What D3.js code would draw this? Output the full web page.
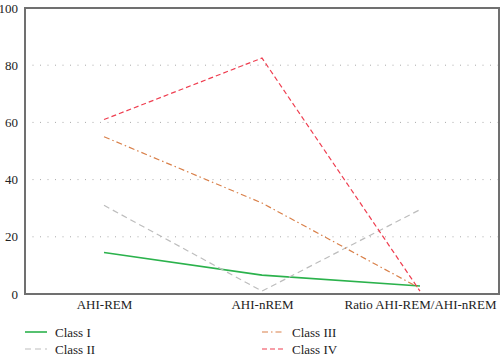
<!DOCTYPE html>
<html><head><meta charset="utf-8">
<script src="https://cdn.jsdelivr.net/npm/d3@7"></script>
<style>body{margin:0;background:#fff}svg{display:block}text{font-family:"Liberation Serif","DejaVu Serif",serif;fill:#222}</style>
</head><body><svg id="c" width="500" height="358"></svg>
<script>
const categories = ["AHI-REM", "AHI-nREM", "Ratio AHI-REM/AHI-nREM"];
const classI = [14.5, 6.6, 2.8];
const classII = [31, 1, 29.5];
const classIII = [55, 31.8, 2];
const classIV = [61, 82.5, 1];
const yTicks = [0, 20, 40, 60, 80, 100];
const seriesNames = ["Class I", "Class II", "Class III", "Class IV"];

const series = [
  {name: seriesNames[0], values: classI, color: "#2bb24c", dash: null, w: 1.6},
  {name: seriesNames[1], values: classII, color: "#bdbdbd", dash: "6,4", w: 1.2},
  {name: seriesNames[2], values: classIII, color: "#d9804a", dash: "6,3,1.5,3", w: 1.2},
  {name: seriesNames[3], values: classIV, color: "#ef3e50", dash: "5,3", w: 1.2}
];

const svg = d3.select("#c");
const L = 25, R = 499, T = 8, B = 294;
const x = d3.scalePoint().domain(categories).range([L, R]).padding(0.5);
const y = d3.scaleLinear().domain([0, 100]).range([B, T]);

// grid
svg.append("g").selectAll("line").data(yTicks.filter(t => t > 0 && t < 100)).join("line")
  .attr("x1", L).attr("x2", R).attr("y1", d => y(d)).attr("y2", d => y(d))
  .attr("stroke", "#aaa").attr("stroke-width", 1).attr("stroke-dasharray", "1,6.5");

// frame
svg.append("rect").attr("x", L).attr("y", T).attr("width", R - L).attr("height", B - T)
  .attr("fill", "none").attr("stroke", "#707070").attr("stroke-width", 2);

// y axis
const ya = svg.append("g").attr("transform", `translate(${L},0)`)
  .call(d3.axisLeft(y).tickValues(yTicks).tickSize(0).tickPadding(7));
ya.attr("font-family", null);
ya.select(".domain").remove();
ya.selectAll("text").style("font-size", "13px").attr("fill", "#222");

// x axis
const xa = svg.append("g").attr("transform", `translate(0,${B})`)
  .call(d3.axisBottom(x).tickSize(0).tickPadding(6));
xa.attr("font-family", null);
xa.select(".domain").remove();
xa.selectAll("text").style("font-size", "13px").attr("fill", "#222");

// lines
const line = d3.line().x((d, i) => x(categories[i])).y(d => y(d));
svg.append("g").selectAll("path").data(series).join("path")
  .attr("d", d => line(d.values)).attr("fill", "none")
  .attr("stroke", d => d.color).attr("stroke-width", d => d.w)
  .attr("stroke-dasharray", d => d.dash);

// legend
const lg = svg.append("g");
const pos = [[25, 332], [25, 349], [262, 332], [262, 349]];
series.forEach((s, i) => {
  const [lx, ly] = pos[i];
  lg.append("line").attr("x1", lx).attr("x2", lx + 22).attr("y1", ly).attr("y2", ly)
    .attr("stroke", s.color).attr("stroke-width", s.w).attr("stroke-dasharray", s.dash);
  lg.append("text").attr("x", lx + 30).attr("y", ly + 4.5).style("font-size", "13px").text(s.name);
});
</script></body></html>
